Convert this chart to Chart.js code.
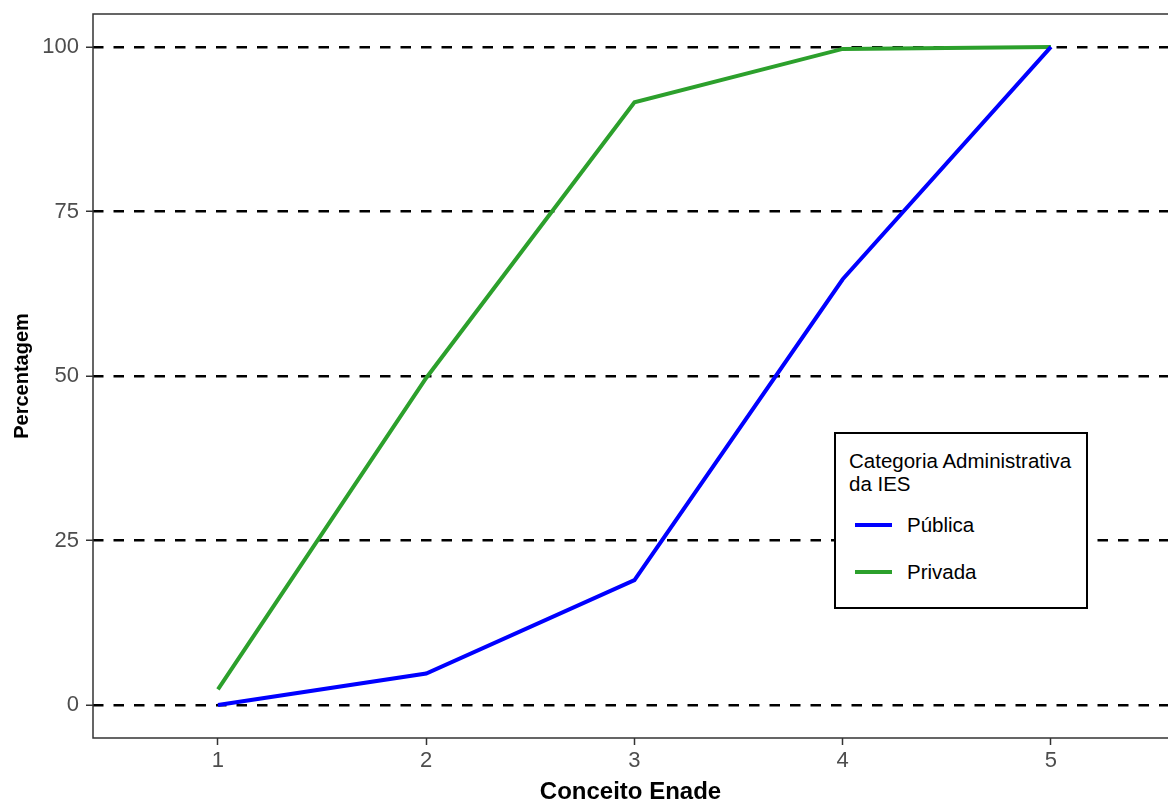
<!DOCTYPE html>
<html>
<head>
<meta charset="utf-8">
<script src="https://cdn.jsdelivr.net/npm/chart.js@4"></script>
<style>
 html,body{margin:0;padding:0;background:#fff;overflow:hidden}
 #wrap{position:relative;width:1168px;height:801px}
 #legend{position:absolute;left:834px;top:432px;width:250px;height:173px;border:2px solid #000;background:#fff;
  font-family:"Liberation Sans",Arial,sans-serif;color:#000;font-size:20.5px}
 #legend .title{position:absolute;left:13px;top:15px;line-height:23px}
 #legend .item{position:absolute;left:19px;height:24px;line-height:24px}
 #legend .item span{display:inline-block;width:37px;height:4px;vertical-align:middle;margin-right:15px;position:relative;top:-2px}
</style>
</head>
<body>
<div id="wrap">
 <canvas id="chart" width="1168" height="801"></canvas>
 <div id="legend"></div>
</div>
<script>
const conceito=[1,2,3,4,5]
const publica=[0,4.8,19,64.7,100]
const privada=[2.4,49.7,91.6,99.7,100]
const yTicks=[0,25,50,75,100]
const seriesNames=["Pública","Privada"]
const seriesColors=["#0000ff","#2ca02c"]
const legendTitle=["Categoria Administrativa","da IES"]

// panel border: top, left, bottom (right side is cut off)
const panelBorder={
 id:"panelBorder",
 afterDraw(chart){
  const a=chart.chartArea, c=chart.ctx
  c.save()
  c.strokeStyle="#333"
  c.lineWidth=1.5
  c.beginPath()
  c.moveTo(a.right+2,a.top)
  c.lineTo(a.left,a.top)
  c.lineTo(a.left,a.bottom)
  c.lineTo(a.right+2,a.bottom)
  c.stroke()
  c.restore()
 }
}

const font="'Liberation Sans', Arial, sans-serif"

new Chart(document.getElementById("chart"),{
 type:"line",
 data:{
  datasets:[
   {label:seriesNames[0],data:conceito.map((x,i)=>({x:x,y:publica[i]})),borderColor:seriesColors[0],borderWidth:4,pointRadius:0,tension:0,fill:false},
   {label:seriesNames[1],data:conceito.map((x,i)=>({x:x,y:privada[i]})),borderColor:seriesColors[1],borderWidth:4,pointRadius:0,tension:0,fill:false}
  ]
 },
 options:{
  responsive:false,
  animation:false,
  layout:{padding:{top:14,right:0,left:0,bottom:0}},
  plugins:{legend:{display:false},tooltip:{enabled:false}},
  scales:{
   x:{
    type:"linear",min:0.4,max:5.562,
    afterBuildTicks:s=>{s.ticks=conceito.map(v=>({value:v}))},
    afterFit:s=>{s.height=63;s.paddingLeft=0;s.paddingRight=0},
    border:{display:false},
    grid:{drawOnChartArea:false,tickLength:7,tickColor:"#333",tickWidth:1.5},
    ticks:{color:"#4d4d4d",font:{family:font,size:22},padding:3,maxRotation:0},
    title:{display:true,text:"Conceito Enade",color:"#000",font:{family:font,size:24,weight:"bold",lineHeight:1},padding:{top:0,bottom:-3}}
   },
   y:{
    min:-5,max:105,
    afterBuildTicks:s=>{s.ticks=yTicks.map(v=>({value:v}))},
    afterFit:s=>{s.width=93;s.paddingTop=0;s.paddingBottom=0},
    border:{display:false,dash:[10.5,10]},
    grid:{color:"#000",lineWidth:2.5,tickLength:7,tickColor:"#333",tickWidth:1.5,tickBorderDash:[]},
    ticks:{color:"#4d4d4d",font:{family:font,size:22},padding:7},
    title:{display:true,text:"Percentagem",color:"#000",font:{family:font,size:20,weight:"bold",lineHeight:1.2},padding:{top:10,bottom:0}}
   }
  }
 },
 plugins:[panelBorder]
})

// legend inside the panel
const lg=document.getElementById("legend")
let h='<div class="title">'+legendTitle.join("<br>")+'</div>'
seriesNames.forEach((n,i)=>{
 h+='<div class="item" style="top:'+(79+i*47)+'px"><span style="background:'+seriesColors[i]+'"></span>'+n+'</div>'
})
lg.innerHTML=h
</script>
</body>
</html>
